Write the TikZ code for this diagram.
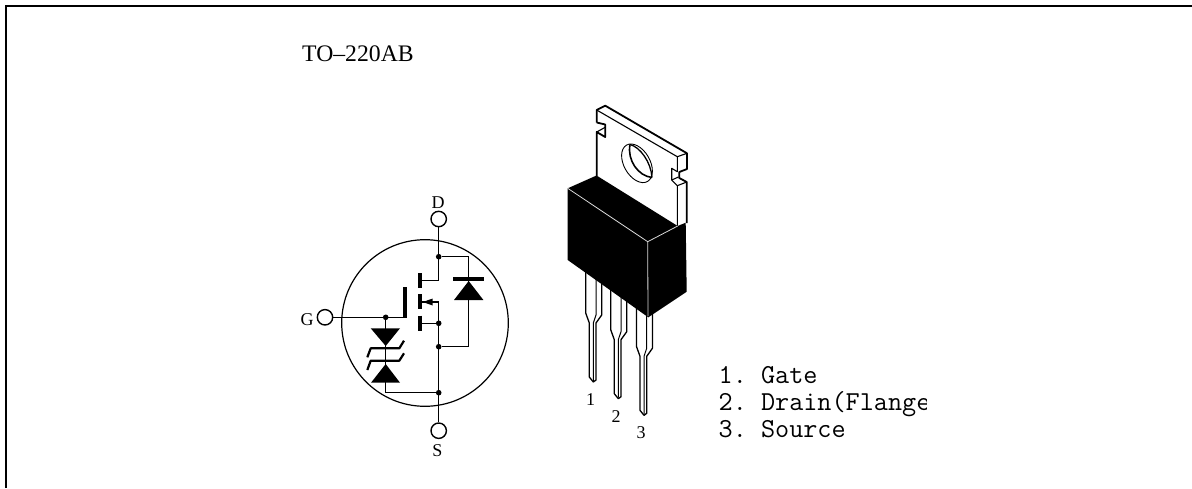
\documentclass[tikz,border=0pt]{standalone}
\usepackage{fontspec}
\setmainfont{Liberation Serif}
\frenchspacing
\tikzset{
  wire/.style={line width=1.4pt,black},
  bar/.style={line width=3.9pt,black},
  zen/.style={line width=2.2pt,black,line join=round},
  terminal/.style={circle,draw,line width=1.4pt,minimum size=15.4pt,inner sep=0pt,fill=white},
  junction/.style={circle,fill=black,minimum size=5.6pt,inner sep=0pt},
  pinlabel/.style={font=\fontsize{18}{20}\selectfont,inner sep=0pt},
  title/.style={font=\fontsize{23.7}{28}\selectfont,inner sep=0pt,anchor=base west},
  legend/.style={font=\ttfamily\fontsize{27.4}{30}\selectfont\frenchspacing,inner sep=0pt,anchor=base west},
  thinedge/.style={line width=1.1pt,black,line join=round},
  thickedge/.style={line width=1.8pt,black,line join=round},
  leadedge/.style={line width=1.3pt,black,line join=round},
  bodyedge/.style={line width=0.8pt,white!85!black},
}
\begin{document}
\begin{tikzpicture}[x=1pt,y=-1pt]
\useasboundingbox (0,0) rectangle (1192,488);
% frame
\draw[line width=1.3pt] (6,488) -- (6,6) -- (1192,6);
\node[title] (pkg) at (302,61.7) {TO–220AB};

% ---- symbol
\draw[line width=1.2pt] (425,323) circle [radius=83.3pt];
\node[terminal] (D) at (438.7,219) {};
\node[terminal] (S) at (438.7,430.7) {};
\node[terminal] (G) at (325,317.3) {};
\node[pinlabel] (Dl) at (438,202.5) {D};
\node[pinlabel] (Sl) at (437.3,451) {S};
\node[pinlabel] (Gl) at (307,319.5) {G};
\node[junction] (j1) at (438.7,256.7) {};
\node[junction] (j2) at (438.7,323.3) {};
\node[junction] (j3) at (438.7,346.7) {};
\node[junction] (j4) at (438.7,392.7) {};
\node[junction] (j5) at (385.7,317.3) {};
\coordinate (dr) at (438.7,280.7);
\coordinate (gt) at (405.2,317.3);
\coordinate (sm) at (438.7,302);
\coordinate (bar1) at (420,280.7);
\coordinate (bar2) at (420,302);
\coordinate (bar3) at (420,323.3);
\coordinate (dtop) at (468.7,256.7);
\coordinate (dbot) at (468.7,346.7);
\coordinate (zbot) at (385.7,392.7);
\draw[wire] (D) -- (dr) -- (bar1);
\draw[wire] (bar3) -- (j2);
\draw[wire] (bar2) -- (sm) -- (S);
\draw[wire] (G) -- (gt);
\draw[wire] (j5) -- (zbot) -- (j4);
\draw[wire] (j1) -- (dtop) -- (dbot) -- (j3);
\draw[bar] (405.2,287.3) -- (405.2,318.2);
\draw[bar] (420,273.3) -- (420,288.3);
\draw[bar] (420,294) -- (420,309.3);
\draw[bar] (420,315.5) -- (420,330.7);
\fill (422.7,302) -- (432.7,298.5) -- (432.7,305.5) -- cycle;
% body diode
\draw[line width=3.6pt] (453.3,278.7) -- (484,278.7);
\fill (468.7,281) -- (454,300) -- (483.4,300) -- cycle;
% zeners
\fill (370.7,328.3) -- (400,328.3) -- (385.7,346) -- cycle;
\fill (385.7,364) -- (371,382.7) -- (400,382.7) -- cycle;
\draw[zen] (367.3,357.3) -- (370.7,348.3) -- (399.3,348.3) -- (404,340.7);
\draw[zen] (367.3,370) -- (370.7,360.7) -- (399.3,360.7) -- (404,353.3);

% ---- package: leads (behind body)
\foreach \dx/\dy in {0/0,25/16.7,50.7/33.3}{
  \begin{scope}[shift={(\dx,\dy)}]
  \draw[leadedge] (585.7,262) -- (585.7,313) -- (589.3,323) -- (589.3,377) -- (593.3,382) -- (596,380) -- (596,323) -- (601.7,315) -- (601.7,272);
  \draw[leadedge,line width=1pt] (596,270) -- (596,315) -- (593.3,323) -- (593.3,381);
  \end{scope}
}
% tab
\draw[thickedge] (596.7,122.5) -- (596.7,110) -- (605.3,105.7) -- (687,153.3) -- (687,169) -- (679.3,172) -- (679.3,178) -- (686.7,182) -- (686.7,223);
\draw[thinedge] (596.7,110) -- (677.3,156.7) -- (687,153.3);
\draw[thickedge] (596.7,122.5) -- (605.2,124.5) -- (605.2,137) -- (596.7,132) -- (596.7,176);
\draw[thinedge] (596.7,132) -- (605.2,127.3);
\draw[thinedge] (677.3,156.7) -- (677.3,171.7) -- (671.7,168.3) -- (671.7,180) -- (677.3,185.7) -- (677.3,226);
\draw[thinedge] (671.7,180) -- (678.5,177);
\draw[thinedge] (677.3,185.7) -- (686.7,182);
% hole
\draw[line width=0.9pt,rotate around={-60:(637,163.3)}] (637,163.3) ellipse [x radius=21pt,y radius=13pt];
\draw[line width=1.6pt] (630,144.5) .. controls (627,160) and (638,176) .. (652,177.5);
\draw[line width=1.3pt] (630,144.5) .. controls (640,147) and (651,162) .. (652,177.5);

% body
\fill (567.7,188.3) -- (596.5,175.5) -- (677.7,226) -- (685.7,222.7) -- (686.7,291.7) -- (648.3,317.3) -- (567.7,260) -- cycle;
\draw[bodyedge] (567.7,188.3) -- (647.7,241.7) -- (677.7,226);
\draw[bodyedge] (647.7,241.7) -- (648,316);

\node[pinlabel] (p1) at (590.7,400) {1};
\node[pinlabel] (p2) at (616,416.7) {2};
\node[pinlabel] (p3) at (641,433) {3};

% legend
\node[legend] (l1) at (718.5,383) {1. Gate};
\begin{scope}
\clip (700,390) rectangle (926.7,420);
\node[legend] (l2) at (718.5,410.7) {2. Drain(Flange};
\end{scope}
\node[legend] (l3) at (718.5,437.7) {3. Source};
\end{tikzpicture}
\end{document}
